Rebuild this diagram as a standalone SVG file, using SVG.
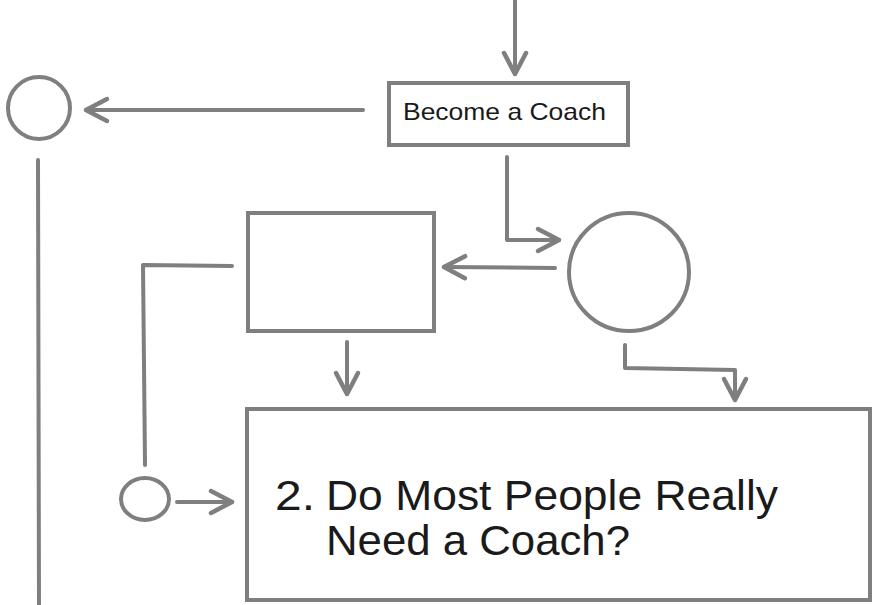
<svg xmlns="http://www.w3.org/2000/svg" width="876" height="605" viewBox="0 0 876 605">
<defs>
<style>
.s{fill:none;stroke:#7f7f7f;stroke-width:4;stroke-linecap:round;stroke-linejoin:round}
.n{fill:#fff;stroke:#7f7f7f;stroke-width:4}
.t{font-family:"Liberation Sans",Arial,sans-serif;fill:#1a1a1a}
</style>
<marker id="ah" viewBox="0 0 30 30" markerUnits="userSpaceOnUse" markerWidth="30" markerHeight="30" refX="26" refY="15" orient="auto">
<path d="M5,4 L26,15 L5,26" fill="none" stroke="#7f7f7f" stroke-width="4.5" stroke-linecap="round" stroke-linejoin="round"/>
</marker>
</defs>
<rect width="876" height="605" fill="#fff"/>
<g id="connectors">
<path class="s" d="M515,0 L515,74" marker-end="url(#ah)"/>
<path class="s" d="M363,110 L86,110" marker-end="url(#ah)"/>
<path class="s" d="M38,160 L39,605"/>
<path class="s" d="M507,157 L507,240 L559,240" marker-end="url(#ah)"/>
<path class="s" d="M555,268 L444,267" marker-end="url(#ah)"/>
<path class="s" d="M347,342 L347,394" marker-end="url(#ah)"/>
<path class="s" d="M625,345 L625,368 L735,370 L735,400" marker-end="url(#ah)"/>
<path class="s" d="M232,266 L143,265 L145,465"/>
<path class="s" d="M177,502 L232,502" marker-end="url(#ah)"/>
</g>
<g id="become-coach">
<rect class="n" x="389" y="83" width="239" height="62"/>
<text class="t" x="403" y="120" font-size="24" textLength="203" lengthAdjust="spacingAndGlyphs">Become a Coach</text>
</g>
<g id="left-circle">
<circle class="n" cx="39" cy="108" r="31"/>
</g>
<g id="middle-rect">
<rect class="n" x="248" y="213" width="186" height="118"/>
</g>
<g id="big-circle">
<ellipse class="n" cx="629" cy="272" rx="60" ry="59"/>
</g>
<g id="small-circle">
<ellipse class="n" cx="145" cy="499" rx="24" ry="21"/>
</g>
<g id="question-box">
<rect class="n" x="247" y="409" width="623" height="191"/>
<text class="t" x="275" y="510" font-size="42" textLength="40" lengthAdjust="spacingAndGlyphs">2.</text>
<text class="t" x="326" y="510" font-size="42" textLength="452" lengthAdjust="spacingAndGlyphs">Do Most People Really</text>
<text class="t" x="326" y="555" font-size="42" textLength="304" lengthAdjust="spacingAndGlyphs">Need a Coach?</text>
</g>
</svg>
